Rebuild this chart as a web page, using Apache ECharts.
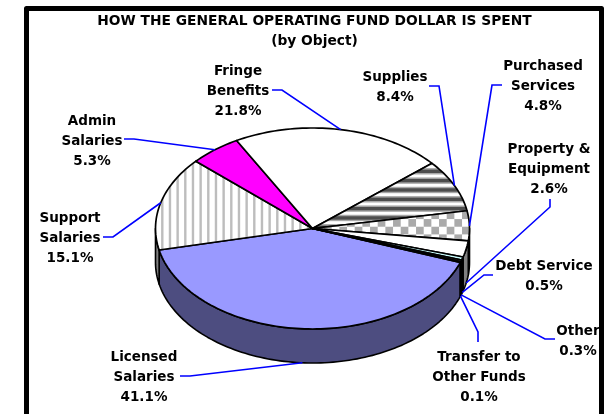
<!DOCTYPE html>
<html>
<head>
<meta charset="utf-8">
<style>html,body{margin:0;padding:0;background:#fff}#main{width:610px;height:414px}</style>
<script src="https://cdn.jsdelivr.net/npm/echarts@6/dist/echarts.min.js"></script>
</head>
<body>
<div id="main"></div>
<script>
var titleText = 'HOW THE GENERAL OPERATING FUND DOLLAR IS SPENT\n(by Object)';
var categories = ['Licensed\nSalaries', 'Support\nSalaries', 'Admin\nSalaries', 'Fringe\nBenefits', 'Supplies',
    'Purchased\nServices', 'Property &\nEquipment', 'Debt Service', 'Other', 'Transfer to\nOther Funds'];
var values = [41.1, 15.1, 5.3, 21.8, 8.4, 4.8, 2.6, 0.5, 0.3, 0.1];

// pie geometry
var cx = 312.5, cy = 228.5, rx = 157, ry = 100.5, depth = 34;
var startAngle = 19.7;
var fontName = '"DejaVu Sans", sans-serif';

// label centre and leader elbow points, same order as categories
var labelX = [144, 70, 92, 238, 395, 543, 549, 544, 578, 479];
var labelY = [377.5, 238.5, 141.5, 91.5, 87.5, 86.5, 169.5, 276.5, 341.5, 377.5];
var leaderPts = [
    [[180, 376], [190, 376]],
    [[103, 237], [113, 237]],
    [[124, 139], [134, 139]],
    [[272, 90], [282, 90]],
    [[429, 86], [439, 86]],
    [[502, 85], [492, 85]],
    [[550, 199], [550, 207]],
    [[493, 275], [484, 275]],
    [[555, 339], [545, 339]],
    [[478, 342], [478, 332]]
];

function stripes(kind) {
    var c = document.createElement('canvas');
    var g = c.getContext('2d');
    var step = 23 / 3, k, r;
    if (kind == 'horiz') {
        c.width = 4; c.height = 28;
        g.fillStyle = '#fff'; g.fillRect(0, 0, 4, 28);
        step = 28 / 3;
        for (k = 0; k < 4; k++) {
            g.fillStyle = '#a8a8a8'; g.fillRect(0, 3.3 - 3.2 + k * step, 4, 6.4);
            g.fillStyle = '#4d4d4d'; g.fillRect(0, 3.3 - 1.7 + k * step, 4, 3.4);
        }
        return {image: c, repeat: 'repeat'};
    }
    c.width = 46; c.height = 46;
    g.fillStyle = '#fff'; g.fillRect(0, 0, 46, 46);
    if (kind == 'vert') {
        g.fillStyle = '#bdbdbd';
        for (k = 0; k < 7; k++) g.fillRect(1.3 - 1.2 + k * step, 0, 2.4, 46);
    } else {
        g.fillStyle = '#aaa';
        for (r = -7; r < 7; r++) {
            for (k = -7; k < 7; k++) {
                if ((r + k + 14) % 2 == 0) g.fillRect(9.7 + k * step, 4.4 + r * step, step, step);
            }
        }
    }
    return {image: c, repeat: 'repeat'};
}

var topColors = ['#9999ff', stripes('vert'), '#ff00ff', '#ffffff', stripes('horiz'), stripes('check'),
    '#ffffff', '#ccffff', '#404040', '#202020'];
var sideColors = ['#4d4d80', '#808080', '#800080', '#808080', '#808080', '#808080',
    '#808080', '#668080', '#202020', '#101010'];

function sliceAngles(i) {
    var a = startAngle;
    for (var k = 0; k < i; k++) a += values[k] * 3.6;
    return [a, a + values[i] * 3.6];
}
function rim(deg, drop) {
    var t = deg * Math.PI / 180;
    return [cx + rx * Math.cos(t), cy + ry * Math.sin(t) + (drop || 0)];
}
function arcPts(a, b, drop) {
    var pts = [];
    var n = Math.max(2, Math.ceil((b - a) / 1.5));
    for (var k = 0; k <= n; k++) pts.push(rim(a + (b - a) * k / n, drop));
    return pts;
}

function renderSide(params) {
    var i = params.dataIndex;
    var ang = sliceAngles(i);
    // only the front half of the wall shows
    var ranges = [[ang[0], ang[1]], [ang[0] - 360, ang[1] - 360]];
    var kids = [];
    ranges.forEach(function (r) {
        var a = Math.max(r[0], 0), b = Math.min(r[1], 180);
        if (b <= a) return;
        var pts = arcPts(a, b, 0).concat(arcPts(a, b, depth).reverse());
        kids.push({type: 'polygon', shape: {points: pts},
            style: {fill: sideColors[i], stroke: '#000', lineWidth: 1.6, lineJoin: 'round'}});
    });
    return {type: 'group', children: kids};
}

function renderTop(params) {
    var i = params.dataIndex;
    var ang = sliceAngles(i);
    var pts = [[cx, cy]].concat(arcPts(ang[0], ang[1], 0));
    return {type: 'polygon', shape: {points: pts},
        style: {fill: topColors[i], stroke: '#000', lineWidth: 1.7, lineJoin: 'round'}};
}

function renderLabel(params) {
    var i = params.dataIndex;
    var ang = sliceAngles(i);
    var mid = (ang[0] + ang[1]) / 2;
    var sin = Math.sin(mid * Math.PI / 180);
    var end = rim(mid, sin > 0 ? depth : 0);
    return {type: 'group', children: [
        {type: 'polyline', shape: {points: leaderPts[i].concat([end])},
            style: {fill: 'none', stroke: '#0000ff', lineWidth: 1.6}},
        {type: 'text', style: {
            text: categories[i] + '\n' + values[i].toFixed(1) + '%',
            x: labelX[i], y: labelY[i], align: 'center', verticalAlign: 'middle',
            fontFamily: fontName, fontWeight: 'bold', fontSize: 13.5, lineHeight: 19.6, fill: '#000'}}
    ]};
}

var myChart = echarts.init(document.getElementById('main'));
var option = {
    animation: false,
    backgroundColor: '#fff',
    title: {
        text: titleText,
        left: 309.5, top: 6, textAlign: 'center',
        textStyle: {fontFamily: fontName, fontWeight: 'bold', fontSize: 13.8, lineHeight: 20, color: '#000'}
    },
    graphic: [{
        type: 'polyline', z: 100,
        shape: {points: [[26.5, 416], [26.5, 8.5], [601.5, 8.5], [601.5, 416]]},
        style: {fill: 'none', stroke: '#000', lineWidth: 5, lineJoin: 'round'}
    }],
    series: [
        {type: 'custom', coordinateSystem: 'none', renderItem: renderSide, data: values, silent: true, z: 2},
        {type: 'custom', coordinateSystem: 'none', renderItem: renderTop, data: values, silent: true, z: 3},
        {type: 'custom', coordinateSystem: 'none', renderItem: renderLabel, data: values, silent: true, z: 4}
    ]
};
myChart.setOption(option);
</script>
</body>
</html>
